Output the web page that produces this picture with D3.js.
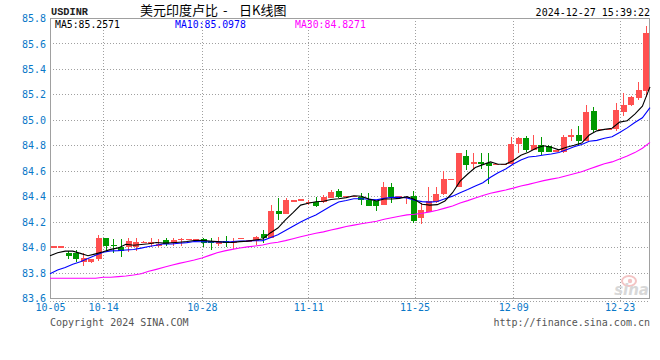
<!DOCTYPE html>
<html><head><meta charset="utf-8">
<script src="https://cdn.jsdelivr.net/npm/d3@7"></script>
<style>body{margin:0;background:#fff}svg{display:block}</style>
</head><body><svg id="c" width="660" height="360"></svg>
<script>
const dates = ["10-05","10-07","10-08","10-09","10-10","10-11","10-12","10-14",
"10-15","10-16","10-17","10-18","10-19","10-21","10-22","10-23","10-24","10-25","10-26","10-27","10-28",
"10-29","10-30","10-31","11-01","11-02","11-03","11-04","11-05","11-06","11-07","11-08","11-09","11-10","11-11",
"11-12","11-13","11-14","11-15","11-16","11-17","11-18","11-19","11-20","11-21","11-22","11-23","11-24","11-25",
"11-26","11-27","11-28","11-29","11-30","12-02","12-03","12-04","12-05","12-06","12-07","12-08","12-09",
"12-10","12-11","12-12","12-13","12-14","12-15","12-16","12-17","12-18","12-19","12-20","12-21","12-22",
"12-23","12-24","12-25","12-26","12-27"];
const open = [84.000,84.000,83.950,83.957,83.885,83.880,83.905,84.072,84.020,84.003,
84.003,84.000,84.036,84.030,84.015,84.058,84.030,84.058,84.058,84.056,
84.061,84.050,84.032,84.048,84.034,84.067,84.046,84.048,84.103,84.074,
84.283,84.262,84.360,84.368,84.350,84.352,84.352,84.388,84.440,84.396,
84.396,84.391,84.370,84.362,84.331,84.475,84.394,84.389,84.401,84.231,
84.278,84.357,84.417,84.530,84.475,84.716,84.650,84.668,84.658,84.648,
84.648,84.653,84.810,84.855,84.763,84.802,84.794,84.753,84.750,84.862,
84.880,84.836,85.069,84.923,84.923,84.925,85.064,85.116,85.173,85.229];
const high = [84.003,84.003,83.970,83.980,83.955,83.910,84.097,84.074,84.063,84.063,
84.074,84.074,84.045,84.074,84.063,84.074,84.074,84.074,84.064,84.062,
84.074,84.074,84.080,84.087,84.069,84.072,84.052,84.085,84.134,84.331,
84.388,84.388,84.370,84.374,84.370,84.396,84.409,84.448,84.454,84.402,
84.402,84.427,84.427,84.365,84.514,84.501,84.400,84.395,84.443,84.344,
84.470,84.475,84.597,84.536,84.742,84.763,84.742,84.742,84.737,84.654,
84.654,84.867,84.867,84.875,84.880,84.867,84.800,84.758,84.880,84.928,
84.951,85.116,85.098,84.928,84.928,85.134,85.208,85.190,85.299,85.737];
const low = [83.998,83.997,83.905,83.880,83.855,83.878,83.890,83.972,83.955,83.925,
83.959,83.972,84.030,84.000,83.998,84.011,84.011,84.011,84.052,84.050,
84.003,83.975,84.010,83.998,83.982,84.062,84.042,84.016,84.030,84.069,
84.213,84.262,84.356,84.364,84.330,84.312,84.344,84.383,84.388,84.392,
84.392,84.331,84.323,84.286,84.331,84.344,84.380,84.340,84.191,84.181,
84.278,84.349,84.409,84.526,84.470,84.606,84.611,84.613,84.496,84.645,
84.645,84.650,84.742,84.750,84.763,84.723,84.745,84.750,84.742,84.836,
84.794,84.836,84.894,84.920,84.920,84.914,85.030,85.110,85.155,85.182];
const close = [84.001,84.001,83.930,83.910,83.912,83.906,84.075,84.011,84.007,83.969,
84.048,84.040,84.040,84.034,84.018,84.024,84.056,84.061,84.060,84.058,
84.032,84.030,84.036,84.034,84.046,84.069,84.048,84.082,84.074,84.283,
84.262,84.370,84.364,84.370,84.353,84.323,84.391,84.435,84.396,84.398,
84.398,84.370,84.323,84.323,84.475,84.396,84.398,84.391,84.207,84.291,
84.362,84.417,84.535,84.532,84.742,84.645,84.671,84.650,84.640,84.650,
84.650,84.810,84.855,84.763,84.802,84.750,84.750,84.755,84.867,84.880,
84.836,85.064,84.920,84.925,84.925,85.077,85.116,85.182,85.234,85.684];
// moving-average values before a full window exists
const ma5Head = [83.932,83.955,83.968,83.968];
const ma10Head = [83.790,83.820,83.840,83.865,83.885,83.910,83.935,83.960,83.970];
const ma30Head = [83.755,83.755,83.755,83.755,83.755,83.755,83.755,83.763,83.763,83.768,
83.773,83.781,83.791,83.810,83.825,83.841,83.857,83.872,83.885,83.899,
83.915,83.935,83.955,83.970,83.982,83.993,84.002,84.009,84.017];
const yTicks = [83.6,83.8,84.0,84.2,84.4,84.6,84.8,85.0,85.2,85.4,85.6,85.8];
const xTicks = ["10-05","10-14","10-28","11-11","11-25","12-09","12-23"];
const legendLabels = ["MA5:85.2571","MA10:85.0978","MA30:84.8271"];
const symbol = "USDINR";
const titleParts = ["美元印度卢比","-","日K线图"];
const stamp = "2024-12-27 15:39:22";

const L=50,R=650,T=18,B=298;
const svg=d3.select("#c");
const mono="'DejaVu Sans Mono', monospace";
const RED="#ff5050", GREEN="#009900", GRID="#a0a0a0", TXT="#0a78c8";

const xp=d3.scalePoint().domain(dates).range([L,R]);
const xb=d3.scaleBand().domain(dates).range([L,R]).paddingInner(0.2).paddingOuter(0.1);
const y=d3.scaleLinear().domain([83.6,85.8]).range([B,T]);

// grid
const g=svg.append("g").attr("shape-rendering","crispEdges");
g.selectAll("line.h").data(yTicks.slice(1,-1)).join("line")
 .attr("x1",L).attr("x2",R).attr("y1",d=>Math.round(y(d))+0.5).attr("y2",d=>Math.round(y(d))+0.5)
 .attr("stroke",GRID).attr("stroke-dasharray","1,2");
g.selectAll("line.v").data(xTicks.slice(1)).join("line")
 .attr("x1",d=>Math.round(xp(d))+0.5).attr("x2",d=>Math.round(xp(d))+0.5).attr("y1",T).attr("y2",B+3)
 .attr("stroke",GRID).attr("stroke-dasharray","1,2");
g.append("line").attr("x1",L).attr("x2",R).attr("y1",B+3.5).attr("y2",B+3.5)
 .attr("stroke",GRID).attr("stroke-dasharray","1,2");
g.append("rect").attr("x",L+0.5).attr("y",T+0.5).attr("width",R-L-1).attr("height",B-T)
 .attr("fill","none").attr("stroke",GRID).attr("stroke-width",1.2);

// axes
const ya=svg.append("g").attr("transform",`translate(${L},0)`)
 .call(d3.axisLeft(y).tickValues(yTicks).tickSize(0).tickPadding(4).tickFormat(d3.format(".1f")));
ya.select(".domain").remove();
ya.selectAll("text").attr("fill",TXT).attr("font-family",mono).attr("font-size",10).attr("dy","0.36em");
const xa=svg.append("g").attr("transform",`translate(0,${B})`)
 .call(d3.axisBottom(xp).tickValues(xTicks).tickSize(0).tickPadding(6));
xa.select(".domain").remove();
xa.selectAll("text").attr("fill",TXT).attr("font-family",mono).attr("font-size",10);

// watermark
const wm=svg.append("g");
wm.append("ellipse").attr("cx",629).attr("cy",281).attr("rx",7).attr("ry",5).attr("fill","none").attr("stroke","#f3c4c4").attr("stroke-width",2);
wm.append("circle").attr("cx",630).attr("cy",281).attr("r",2.2).attr("fill","#f3c4c4");
wm.append("text").attr("x",649).attr("y",295).attr("text-anchor","end").attr("font-family","'DejaVu Sans'")
 .attr("font-style","italic").attr("font-weight","bold").attr("font-size",15).attr("fill","#d8d8d8").text("sina");

// candles
const data=dates.map((d,i)=>({d,o:open[i],h:high[i],l:low[i],c:close[i]}));
const bw=xb.bandwidth();
const cg=svg.append("g").attr("shape-rendering","crispEdges");
const cs=cg.selectAll("g").data(data).join("g");
cs.append("line").attr("x1",d=>xb(d.d)+bw/2).attr("x2",d=>xb(d.d)+bw/2)
 .attr("y1",d=>y(d.h)).attr("y2",d=>y(d.l)).attr("stroke",d=>d.c>=d.o?RED:GREEN);
cs.append("rect").attr("x",d=>xb(d.d)).attr("width",bw)
 .attr("y",d=>{const a=y(Math.max(d.o,d.c)),b=y(Math.min(d.o,d.c));return b-a<1.5?(a+b)/2-0.75:a;})
 .attr("height",d=>Math.max(1.5,Math.abs(y(d.o)-y(d.c))))
 .attr("fill",d=>d.c>=d.o?RED:GREEN);

// moving averages
function ma(n,head){return close.map((c,i)=>i<n-1?head[i]:d3.mean(close.slice(i-n+1,i+1)));}
const line=d3.line().x((v,i)=>xp(dates[i])).y(v=>y(v));
[[ma(30,ma30Head),"#ff00ff"],[ma(10,ma10Head),"#0000ff"],[ma(5,ma5Head),"#000000"]].forEach(([s,col])=>{
 svg.append("path").attr("d",line(s)).attr("fill","none").attr("stroke",col).attr("stroke-width",1.1);
});

// texts
svg.append("text").attr("x",51).attr("y",14.5).attr("font-family","'Liberation Mono', monospace").attr("font-weight","bold")
 .attr("font-size",10.5).attr("textLength",37).attr("lengthAdjust","spacingAndGlyphs").attr("fill","#222").text(symbol);
const tf="'Noto Sans CJK SC', sans-serif";
[[140,titleParts[0]],[223,titleParts[1]],[239,titleParts[2]]].forEach(([x,t])=>{
 svg.append("text").attr("x",x).attr("y",14.5).attr("font-family",tf).attr("font-size",13).attr("fill","#000").text(t);
});
svg.append("text").attr("x",650).attr("y",15.5).attr("text-anchor","end").attr("font-family",mono).attr("font-size",10).attr("fill","#000").text(stamp);
const legCols=["#000000","#0000ff","#ff00ff"];
legendLabels.forEach((t,i)=>{
 svg.append("text").attr("x",55+i*120).attr("y",27.5).attr("font-family",mono).attr("font-size",9.8).attr("fill",legCols[i]).text(t);
});
svg.append("text").attr("x",50).attr("y",326).attr("font-family",mono).attr("font-size",10).attr("fill","#555").text("Copyright 2024 SINA.COM");
svg.append("text").attr("x",650).attr("y",326).attr("text-anchor","end").attr("font-family",mono).attr("font-size",10).attr("fill","#555").text("http://finance.sina.com.cn");
</script></body></html>
